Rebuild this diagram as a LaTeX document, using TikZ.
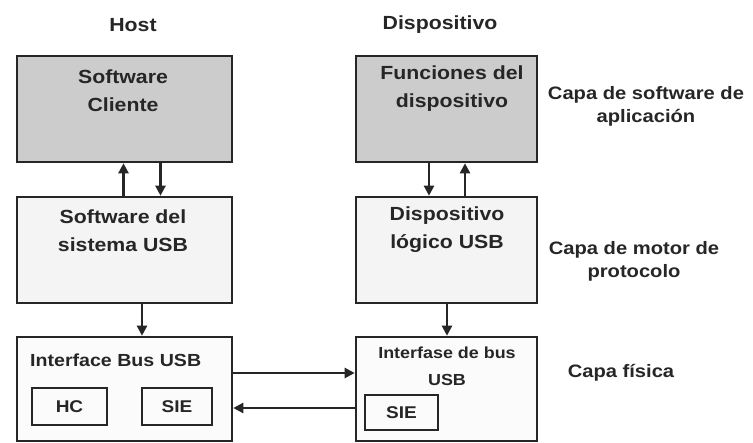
\documentclass[tikz,border=0pt]{standalone}
\usepackage{fontspec}
\setmainfont[FakeStretch=1.12]{Liberation Sans}
\usetikzlibrary{arrows.meta}
\definecolor{topfill}{gray}{0.80}
\definecolor{midfill}{gray}{0.955}
\definecolor{botfill}{gray}{0.985}
\begin{document}
\begin{tikzpicture}[x=1pt,y=-1pt,
  box/.style={draw=black!85, line width=2.6pt, rectangle, inner sep=0pt},
  txt/.style={align=center, inner sep=0pt, font=\fontsize{19}{28}\selectfont\bfseries, text=black!85},
  lbl/.style={align=center, inner sep=0pt, font=\fontsize{18}{23}\selectfont\bfseries, text=black!85},
  small/.style={font=\fontsize{17}{20}\selectfont\bfseries, text=black!85},
  arr/.style={draw=black!85, line width=2.3pt, -{Triangle[length=10pt,width=10pt]}}]
\useasboundingbox[fill=white] (0,0) rectangle (753,443);

% headers
\node[lbl, font=\fontsize{19}{23}\selectfont\bfseries] (host) at (133,25) {Host};
\node[lbl, font=\fontsize{19}{23}\selectfont\bfseries] (disp) at (440,25) {Dispositivo};

% top layer
\node[box, fill=topfill, minimum width=215pt, minimum height=106pt] (sc) at (124.5,109) {};
\node[txt] (sct) at (123,91) {Software\\Cliente};
\node[box, fill=topfill, minimum width=181pt, minimum height=106pt] (fd) at (446.5,109) {};
\node[txt] (fdt) at (452,89) {Funciones del\\dispositivo};

% middle layer
\node[box, fill=midfill, minimum width=215pt, minimum height=106pt] (usw) at (124.5,250) {};
\node[txt] (uswt) at (123,231) {Software del\\sistema USB};
\node[box, fill=midfill, minimum width=181pt, minimum height=106pt] (dl) at (446.5,250) {};
\node[txt] (dlt) at (447,230) {Dispositivo\\lógico USB};

% bottom layer
\node[box, fill=botfill, minimum width=215pt, minimum height=104pt] (ibh) at (124.5,389) {};
\node[small, anchor=west, inner sep=0pt, font=\fontsize{17.5}{20}\selectfont\bfseries] (ibht) at (30,360) {Interface Bus USB};
\node[box, fill=botfill, minimum width=75pt, minimum height=37pt, small] (hc) at (69.5,406.5) {HC\hspace{16pt}};
\node[box, fill=botfill, minimum width=70pt, minimum height=37pt, small] (sieh) at (177,406.5) {SIE\hspace{8pt}};

\node[box, fill=botfill, minimum width=181pt, minimum height=104pt] (ibd) at (446.5,389) {};
\node[lbl, font=\fontsize{16}{27}\selectfont\bfseries] (ibdt) at (447,366.5) {Interfase de bus\\USB};
\node[box, fill=botfill, minimum width=73pt, minimum height=35pt, small] (sied) at (401.5,412.5) {SIE\hspace{8pt}};

% right labels
\node[lbl] (l1) at (646,106) {Capa de software de\\aplicación};
\node[lbl] (l2) at (634,261) {Capa de motor de\\protocolo};
\node[lbl] (l3) at (621,373) {Capa física};

% arrows
\draw[arr] ([xshift=-1pt]usw.north) -- ([xshift=-1pt]sc.south);
\draw[arr] ([xshift=36pt]sc.south) -- ([xshift=36pt]usw.north);
\draw[arr] ([xshift=-17.5pt]fd.south) -- ([xshift=-17.5pt]dl.north);
\draw[arr] ([xshift=18.5pt]dl.north) -- ([xshift=18.5pt]fd.south);
\draw[arr] ([xshift=17.5pt]usw.south) -- ([xshift=17.5pt]ibh.north);
\draw[arr] ([xshift=0.5pt]dl.south) -- ([xshift=0.5pt]ibd.north);
\draw[arr] ([yshift=16pt]ibh.east) -- ([yshift=16pt]ibd.west);
\draw[arr] ([yshift=-19pt]ibd.west) -- ([yshift=-19pt]ibh.east);
\end{tikzpicture}
\end{document}
